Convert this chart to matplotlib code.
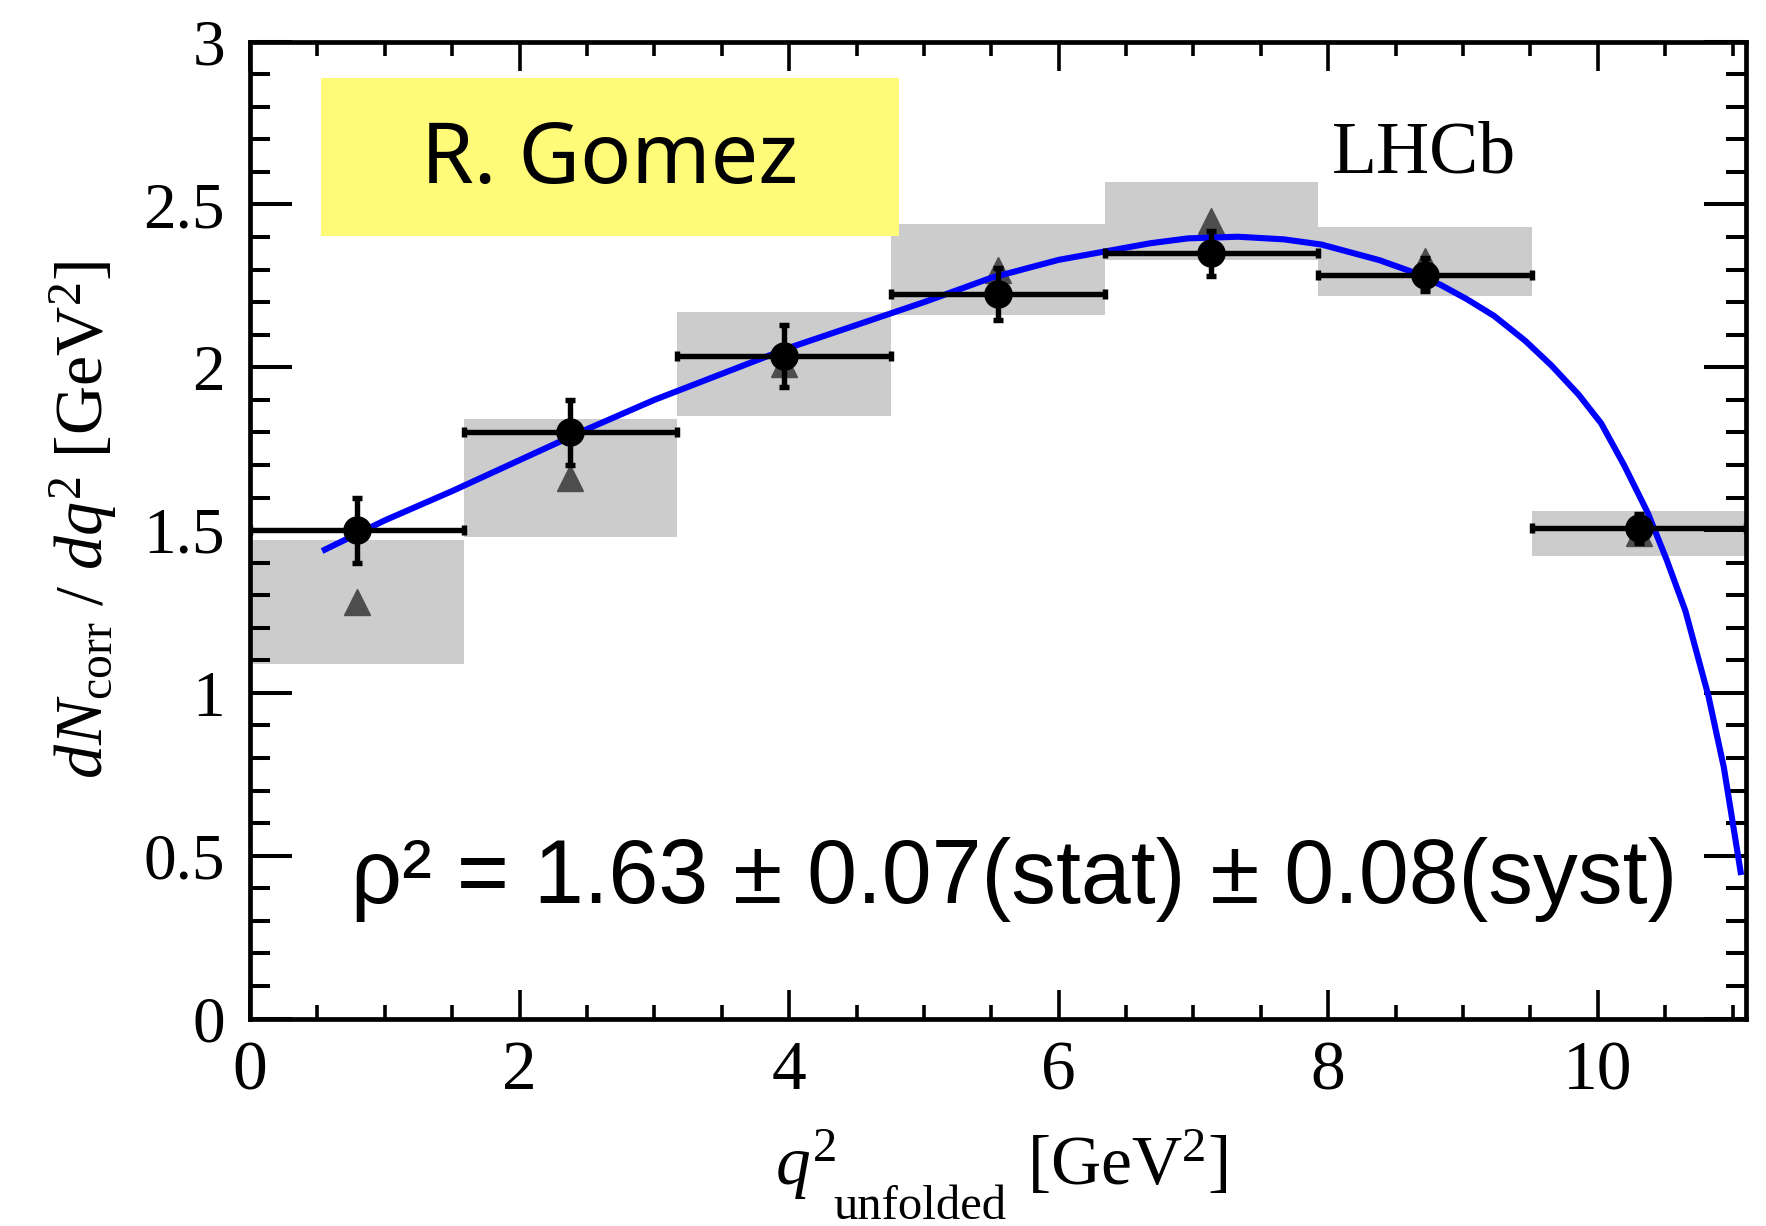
import matplotlib
matplotlib.use('Agg')
import matplotlib.pyplot as plt
from matplotlib.ticker import MultipleLocator, FixedLocator
from matplotlib.patches import Rectangle

# ---- data ----
bin_edges = [0.0, 1.585, 3.17, 4.755, 6.34, 7.925, 9.51, 11.1]
data_y = [1.50, 1.80, 2.035, 2.226, 2.35, 2.285, 1.505]
stat_err = [0.10, 0.10, 0.095, 0.08, 0.07, 0.05, 0.045]
alt_y = [1.28, 1.66, 2.01, 2.30, 2.45, 2.325, 1.49]
syst_err = [0.19, 0.18, 0.16, 0.14, 0.12, 0.105, 0.07]

fit_x = [0.555, 1.0, 1.5, 2.0, 2.5, 3.0, 3.5, 4.0, 4.5, 5.0, 5.5, 6.0, 6.68,
         6.96, 7.33, 7.67, 7.95, 8.38, 8.61, 8.835, 9.03, 9.23, 9.46, 9.655,
         9.856, 10.025, 10.197, 10.37, 10.51, 10.65, 10.82, 10.935, 11.06]
fit_y = [1.44, 1.53, 1.62, 1.715, 1.81, 1.90, 1.98, 2.06, 2.13, 2.20, 2.275,
         2.33, 2.381, 2.396, 2.401, 2.393, 2.377, 2.329, 2.295, 2.253, 2.209,
         2.158, 2.082, 2.006, 1.917, 1.828, 1.698, 1.554, 1.41, 1.252, 0.992,
         0.772, 0.45]

xtick_vals = [0, 2, 4, 6, 8, 10]
xtick_labels = ['0', '2', '4', '6', '8', '10']
ytick_vals = [0, 0.5, 1, 1.5, 2, 2.5, 3]
ytick_labels = ['0', '0.5', '1', '1.5', '2', '2.5', '3']

centers = [(a + b) / 2 for a, b in zip(bin_edges[:-1], bin_edges[1:])]
widths = [b - a for a, b in zip(bin_edges[:-1], bin_edges[1:])]
half_w = [w / 2 for w in widths]

plt.rcParams['mathtext.fontset'] = 'custom'
plt.rcParams['mathtext.rm'] = 'Liberation Serif'
plt.rcParams['mathtext.it'] = 'Liberation Serif:italic'
plt.rcParams['font.family'] = 'Liberation Serif'

W, H = 1766, 1226
fig = plt.figure(figsize=(W / 100, H / 100), dpi=100)
ax = fig.add_axes([0.1416, 0.1692, 0.8471, 0.7968])

# systematic boxes
ax.bar(centers, [2 * s for s in syst_err], width=widths,
       bottom=[y - s for y, s in zip(alt_y, syst_err)],
       color='#cccccc', edgecolor='none', zorder=1)
# alternative points (triangles)
ax.plot(centers, alt_y, linestyle='none', marker='^', markersize=18.5,
        color='#4d4d4d', zorder=2)
# fit curve
ax.plot(fit_x, fit_y, color='#0000ff', lw=4.4, zorder=3,
        solid_joinstyle='round')
# data points
ax.errorbar(centers, data_y, xerr=half_w, yerr=stat_err, fmt='o',
            color='black', markersize=19.5, elinewidth=3.9, capsize=3.6,
            capthick=3.9, zorder=4)

ax.set_xlim(0, 11.1)
ax.set_ylim(0, 3)

ax.xaxis.set_major_locator(FixedLocator(xtick_vals))
ax.set_xticklabels(xtick_labels)
ax.xaxis.set_minor_locator(MultipleLocator(0.5))
ax.yaxis.set_major_locator(FixedLocator(ytick_vals))
ax.set_yticklabels(ytick_labels)
ax.yaxis.set_minor_locator(MultipleLocator(0.1))

ax.tick_params(axis='both', which='both', direction='in', top=True, right=True)
ax.tick_params(axis='x', which='major', length=21, width=2.6, labelsize=50, pad=16)
ax.tick_params(axis='x', which='minor', length=10, width=2.6)
ax.tick_params(axis='y', which='major', length=30, width=2.9, labelsize=47, pad=18)
ax.tick_params(axis='y', which='minor', length=14.5, width=2.9)
for sp in ax.spines.values():
    sp.set_linewidth(3.4)

# x-axis title built from pieces (subscript sits low as in the reference)
fig.text(775 / W, 1 - 1185 / H, r'$q^{2}$', fontsize=50, ha='left', va='baseline')
fig.text(833 / W, 1 - 1219 / H, 'unfolded', fontsize=35, ha='left', va='baseline')
fig.text(1027 / W, 1 - 1185 / H, r'[GeV$^{2}$]', fontsize=50, ha='left', va='baseline')

ax.set_ylabel(r'$dN_{\mathrm{corr}}\ /\ dq^{2}\ [\mathrm{GeV}^{2}]$', fontsize=49)
ax.yaxis.set_label_coords(-0.087, 0.5105)

# LHCb label
ax.text(8.03, 2.597, 'LHCb', fontsize=53, family='Liberation Serif',
        ha='left', va='baseline', zorder=5)
# result text
ax.text(0.75, 0.355, 'ρ² = 1.63 ± 0.07(stat) ± 0.08(syst)', fontsize=64.5,
        family=['Liberation Sans', 'DejaVu Sans'], ha='left', va='baseline',
        zorder=5)

# yellow name box
fig.patches.append(Rectangle((321 / W, 1 - 236 / H), (899 - 321) / W,
                             (236 - 78) / H, transform=fig.transFigure,
                             facecolor='#fffa78', edgecolor='none', zorder=6))
fig.text(610 / W, 1 - 161 / H, 'R. Gomez', fontsize=61,
         family=['Noto Sans', 'DejaVu Sans'], ha='center', va='center', zorder=7)

fig.savefig('out.png', dpi=100)
